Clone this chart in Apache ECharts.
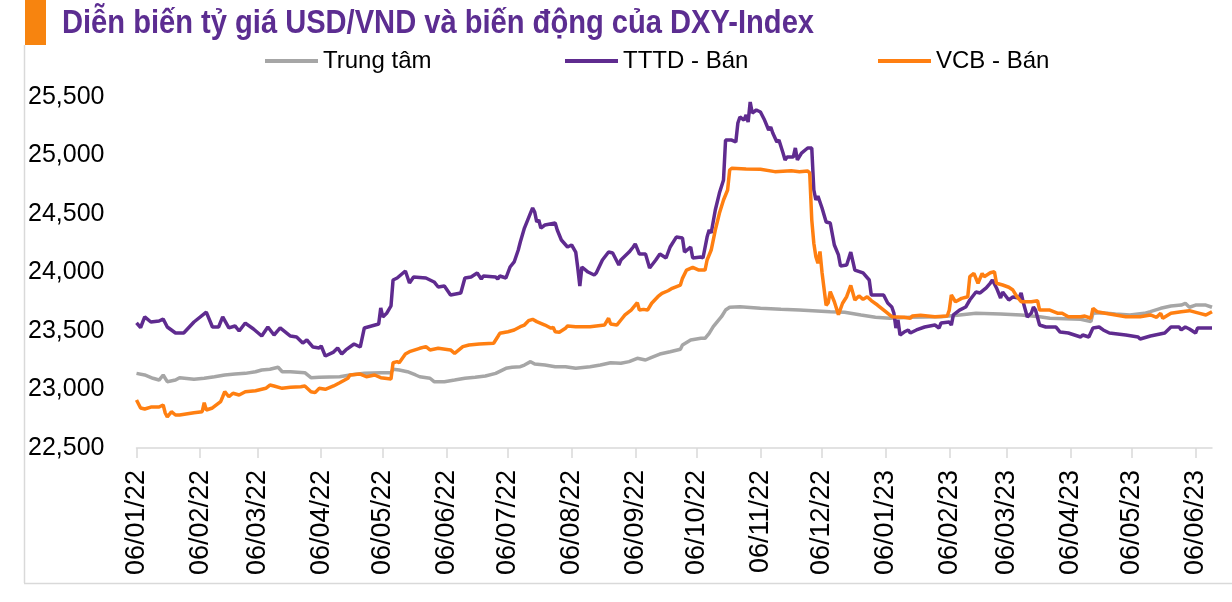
<!DOCTYPE html>
<html><head><meta charset="utf-8">
<script src="https://cdn.jsdelivr.net/npm/echarts@6/dist/echarts.min.js"></script>
<style>html,body{margin:0;padding:0;background:#fff}#c{width:1232px;height:602px}</style>
</head><body><div id="c"></div>
<script>
const titleText = 'Diễn biến tỷ giá USD/VND và biến động của DXY-Index';
const seriesNames = ['Trung tâm', 'TTTD - Bán', 'VCB - Bán'];
const seriesColors = ['#a6a6a6', '#5f2b8f', '#ff7f11'];
const startDate = [2022, 0, 6];     // day 0 of every [day, value] pair below
const endDay = 524;                 // last day shown on the axis (14/06/23)
const tickDates = ['2022-01-06','2022-02-06','2022-03-06','2022-04-06','2022-05-06','2022-06-06','2022-07-06','2022-08-06','2022-09-06','2022-10-06','2022-11-06','2022-12-06','2023-01-06','2023-02-06','2023-03-06','2023-04-06','2023-05-06','2023-06-06'];
const yMin = 22500, yMax = 25500, yStep = 500;

// [days since 06/01/22, VND per USD]
const centralRate = [[0,23138],[4,23124],[8,23096],[11,23081],[13,23124],[15,23067],[19,23081],[21,23101],[28,23087],[33,23096],[38,23109],[43,23124],[48,23132],[53,23138],[58,23152],[61,23167],[65,23173],[69,23190],[71,23152],[75,23152],[82,23144],[85,23101],[89,23104],[99,23109],[104,23124],[111,23138],[119,23144],[124,23144],[125,23173],[128,23167],[132,23152],[136,23124],[138,23109],[143,23096],[145,23067],[150,23067],[155,23081],[160,23096],[165,23104],[170,23115],[175,23138],[180,23181],[183,23190],[187,23195],[189,23209],[192,23238],[194,23218],[199,23209],[204,23195],[209,23195],[214,23181],[221,23195],[226,23209],[231,23229],[236,23224],[240,23238],[244,23267],[248,23252],[251,23275],[255,23303],[260,23323],[265,23344],[266,23380],[270,23423],[275,23438],[277,23438],[279,23480],[281,23537],[283,23580],[285,23622],[287,23679],[289,23703],[294,23708],[304,23694],[314,23685],[323,23679],[338,23665],[345,23660],[353,23637],[360,23617],[367,23609],[377,23617],[392,23622],[401,23637],[409,23651],[421,23645],[431,23637],[440,23622],[445,23609],[460,23600],[465,23580],[466,23651],[470,23656],[477,23645],[484,23637],[491,23651],[494,23665],[499,23694],[504,23714],[509,23722],[511,23737],[513,23703],[516,23722],[521,23722],[524,23703]];

const tttdSell = [[0,23570],[2,23530],[4,23620],[7,23577],[11,23585],[13,23603],[15,23534],[19,23483],[23,23483],[28,23577],[34,23662],[37,23534],[40,23534],[42,23620],[45,23526],[48,23543],[50,23500],[53,23568],[57,23517],[61,23457],[64,23534],[67,23466],[70,23526],[75,23457],[78,23449],[81,23397],[83,23423],[86,23363],[89,23355],[90,23372],[92,23286],[96,23320],[98,23355],[100,23303],[102,23338],[106,23389],[109,23363],[111,23526],[118,23560],[119,23697],[120,23620],[122,23654],[124,23714],[125,23936],[127,23953],[131,24013],[133,23910],[135,23962],[141,23953],[145,23919],[147,23876],[150,23885],[153,23808],[158,23825],[160,23953],[163,23962],[166,23996],[168,23944],[169,23970],[175,23962],[176,23944],[177,23970],[180,23953],[182,24047],[184,24090],[186,24192],[187,24261],[189,24380],[192,24509],[193,24551],[194,24517],[195,24432],[196,24449],[197,24380],[199,24406],[204,24423],[205,24363],[207,24278],[210,24218],[212,24235],[214,24175],[215,24038],[216,23885],[217,24047],[220,24004],[223,23979],[224,23996],[227,24107],[230,24175],[232,24167],[235,24064],[236,24107],[240,24175],[242,24218],[243,24244],[245,24158],[248,24158],[250,24038],[253,24107],[255,24158],[258,24124],[260,24218],[263,24303],[266,24295],[267,24175],[270,24218],[271,24124],[275,24133],[276,24124],[278,24303],[279,24363],[280,24338],[282,24534],[284,24679],[286,24791],[287,25132],[290,25132],[292,25115],[293,25278],[294,25329],[296,25303],[297,25346],[298,25286],[299,25457],[300,25363],[302,25389],[304,25372],[306,25303],[308,25218],[309,25244],[310,25192],[312,25115],[313,25132],[315,25021],[316,24962],[317,24987],[320,24987],[321,25064],[322,24962],[324,25021],[327,25064],[329,25064],[330,24705],[331,24620],[332,24654],[334,24551],[336,24432],[338,24423],[340,24235],[342,24150],[343,24056],[346,24064],[348,24175],[350,24021],[354,23996],[357,23936],[358,23808],[364,23808],[366,23739],[368,23705],[369,23654],[370,23526],[371,23594],[372,23466],[374,23491],[376,23509],[377,23483],[380,23509],[384,23534],[389,23551],[391,23526],[392,23568],[396,23577],[397,23551],[398,23637],[401,23679],[404,23705],[406,23765],[409,23833],[411,23825],[414,23868],[416,23910],[417,23936],[419,23868],[421,23782],[422,23833],[425,23765],[427,23791],[430,23782],[431,23825],[432,23748],[434,23620],[436,23654],[437,23705],[438,23679],[440,23551],[443,23534],[448,23534],[450,23491],[454,23483],[460,23449],[461,23466],[464,23449],[466,23526],[469,23534],[471,23509],[474,23483],[482,23466],[488,23449],[489,23432],[494,23457],[501,23483],[504,23534],[508,23534],[509,23509],[511,23534],[513,23517],[516,23483],[517,23526],[524,23526]];

const vcbSell = [[0,22910],[2,22842],[4,22833],[7,22850],[11,22850],[13,22868],[14,22799],[15,22765],[17,22810],[19,22782],[21,22782],[28,22802],[32,22810],[33,22887],[34,22825],[37,22842],[41,22896],[42,22938],[43,22981],[45,22938],[47,22968],[50,22953],[53,22981],[58,22990],[63,23010],[65,23038],[67,23030],[71,23010],[75,23019],[80,23024],[82,23030],[85,22981],[87,22973],[89,23010],[92,23002],[96,23030],[99,23058],[103,23096],[104,23124],[109,23132],[112,23109],[116,23124],[119,23101],[124,23090],[125,23229],[127,23238],[128,23229],[131,23303],[133,23323],[138,23352],[141,23366],[143,23338],[147,23352],[153,23338],[155,23309],[159,23366],[162,23380],[167,23389],[174,23395],[176,23451],[177,23480],[181,23494],[184,23509],[187,23537],[189,23551],[191,23588],[193,23600],[195,23580],[199,23551],[202,23523],[203,23532],[204,23494],[206,23489],[209,23523],[210,23543],[214,23537],[221,23537],[228,23551],[230,23609],[231,23560],[234,23551],[236,23594],[238,23637],[241,23679],[244,23742],[245,23679],[247,23685],[249,23679],[251,23737],[254,23793],[256,23822],[259,23844],[261,23865],[265,23893],[266,23950],[268,24021],[271,24044],[274,24021],[277,24021],[278,24107],[280,24192],[282,24363],[284,24506],[286,24620],[288,24705],[289,24876],[290,24891],[297,24885],[304,24882],[311,24862],[319,24870],[323,24862],[327,24868],[328,24850],[329,24450],[330,24250],[331,24135],[332,24080],[333,24180],[334,24000],[336,23720],[337,23740],[338,23836],[340,23750],[342,23640],[344,23737],[346,23793],[348,23890],[350,23765],[352,23800],[354,23770],[356,23793],[358,23760],[361,23722],[365,23665],[368,23622],[374,23617],[377,23609],[378,23628],[382,23634],[389,23622],[395,23628],[396,23679],[397,23808],[399,23750],[402,23779],[405,23793],[406,23964],[408,23993],[410,23908],[412,23993],[413,23964],[416,23998],[418,24007],[419,23908],[422,23893],[425,23874],[427,23850],[429,23793],[431,23750],[436,23750],[439,23759],[440,23679],[445,23679],[449,23651],[451,23651],[454,23622],[460,23622],[462,23628],[465,23609],[466,23694],[468,23665],[472,23651],[477,23637],[482,23622],[489,23622],[494,23637],[497,23617],[499,23651],[500,23609],[504,23651],[509,23665],[513,23674],[518,23651],[521,23637],[524,23665]];

function dayToTime(d) { return new Date(startDate[0], startDate[1], startDate[2] + d).getTime(); }
function parseDate(s) { const p = s.split('-').map(Number); return new Date(p[0], p[1] - 1, p[2]).getTime(); }
function pad(n) { return (n < 10 ? '0' : '') + n; }
function fmtDate(v) { const d = new Date(v); return pad(d.getDate()) + '/' + pad(d.getMonth() + 1) + '/' + String(d.getFullYear()).slice(2); }
function toSeries(arr) { return arr.map(p => [dayToTime(p[0]), p[1]]); }

const titleFontFamily = '"Liberation Sans Narrow", "Liberation Sans", Arial, sans-serif';
const titleFontSize = 34;
function measure(text, font) { const c = document.createElement('canvas').getContext('2d'); c.font = font; return c.measureText(text).width; }
const titleScale = 752 / measure(titleText, 'bold ' + titleFontSize + 'px ' + titleFontFamily);

const tickTimes = tickDates.map(parseDate);
const legendLefts = [265, 565, 878];
const dataSets = [centralRate, tttdSell, vcbSell];

const chart = echarts.init(document.getElementById('c'), null, { renderer: 'canvas' });
chart.setOption({
  backgroundColor: '#ffffff',
  animation: false,
  graphic: [
    { type: 'rect', shape: { x: 25, y: 0, width: 21, height: 45 }, style: { fill: '#f7840f' } },
    { type: 'text', x: 62, y: 24, scaleX: titleScale, style: { text: titleText, fontFamily: titleFontFamily, fontWeight: 'bold', fontSize: titleFontSize, fill: '#5c2d91', verticalAlign: 'middle' } },
    { type: 'line', shape: { x1: 24.5, y1: 45, x2: 24.5, y2: 583 }, style: { stroke: '#d9d9d9', lineWidth: 1.5 } },
    { type: 'line', shape: { x1: 24, y1: 583.5, x2: 1232, y2: 583.5 }, style: { stroke: '#d9d9d9', lineWidth: 1.5 } }
  ],
  legend: seriesNames.map((n, i) => ({
    data: [n], left: legendLefts[i], top: 49, padding: 0, itemWidth: 53, itemHeight: 4, icon: 'rect',
    textStyle: { fontSize: 24, fontFamily: 'Liberation Sans', color: '#000' }
  })),
  grid: { left: 136.5, right: 20, top: 97, bottom: 154, containLabel: false },
  xAxis: {
    type: 'value', min: dayToTime(0), max: dayToTime(endDay), scale: true,
    axisLine: { show: true, lineStyle: { color: '#d9d9d9', width: 1.5 } },
    axisTick: { show: true, customValues: tickTimes, length: 10, lineStyle: { color: '#d9d9d9', width: 1.5 } },
    axisLabel: { customValues: tickTimes, rotate: 90, margin: 22, fontSize: 27, fontFamily: 'Liberation Sans', color: '#000', formatter: fmtDate, hideOverlap: false },
    splitLine: { show: false }
  },
  yAxis: {
    type: 'value', min: yMin, max: yMax, interval: yStep,
    axisLine: { show: false }, axisTick: { show: false }, splitLine: { show: false },
    axisLabel: { align: 'left', margin: 108.5, fontSize: 25, fontFamily: 'Liberation Sans', color: '#000', formatter: v => v.toLocaleString('en-US') }
  },
  series: seriesNames.map((n, i) => ({
    name: n, type: 'line', symbol: 'none', showSymbol: false,
    data: toSeries(dataSets[i]),
    lineStyle: { color: seriesColors[i], width: 3.5 },
    itemStyle: { color: seriesColors[i] },
    z: 2 + i
  }))
});
</script>
</body></html>
